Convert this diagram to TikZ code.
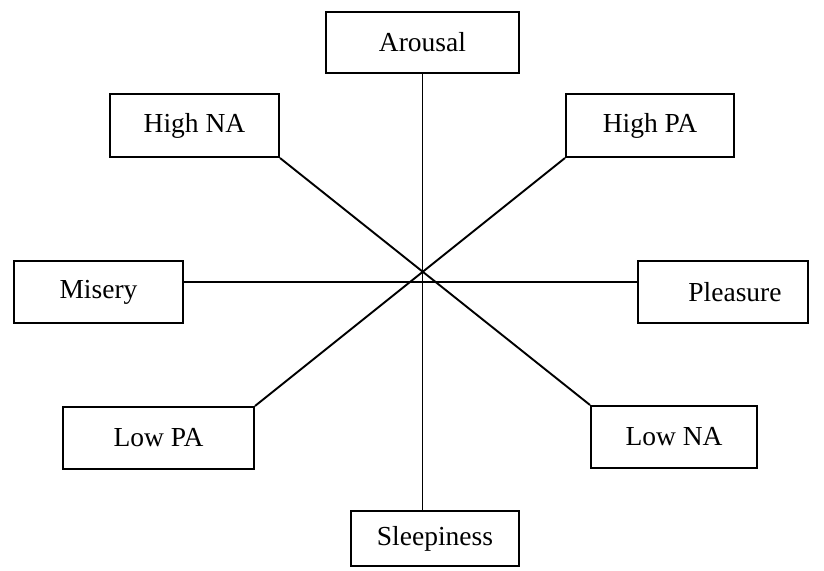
\documentclass[tikz,border=0pt]{standalone}
\usepackage{fontspec}
\setmainfont{Liberation Serif}
\begin{document}
\begin{tikzpicture}[x=1pt,y=-1pt,
  lbl/.style={draw=black,line width=2pt,rectangle,inner sep=0pt,
    font=\fontsize{27.5}{30}\selectfont,text=black},
  conn/.style={draw=black,line width=1.9pt}]
\useasboundingbox (0,0) rectangle (824,570);
\node[lbl,minimum width=193pt,minimum height=61pt] (arousal) at (422.5,42.5) {Arousal};
\node[lbl,minimum width=169pt,minimum height=63pt] (hna) at (194.5,125.5) {High NA};
\node[lbl,minimum width=168pt,minimum height=63pt] (hpa) at (650,125.5) {High PA};
\node[lbl,minimum width=169pt,minimum height=62pt] (misery) at (98.5,292) {Misery};
\node[lbl,minimum width=170pt,minimum height=62pt] (pleasure) at (723,292) {\hspace*{24pt}Pleasure};
\node[lbl,minimum width=191pt,minimum height=62pt] (lpa) at (158.5,438) {Low PA};
\node[lbl,minimum width=166pt,minimum height=62pt] (lna) at (674,437) {Low NA};
\node[lbl,minimum width=168pt,minimum height=55pt] (sleep) at (435,538.5) {Sleepiness};
\draw[conn] (arousal.south) -- (arousal.south |- sleep.north);
\draw[conn] ([yshift=10pt]misery.east) -- ([yshift=10pt]misery.east -| pleasure.west);
\draw[conn] (hna.south east) -- (lna.north west);
\draw[conn] (hpa.south west) -- (lpa.north east);
\end{tikzpicture}
\end{document}
